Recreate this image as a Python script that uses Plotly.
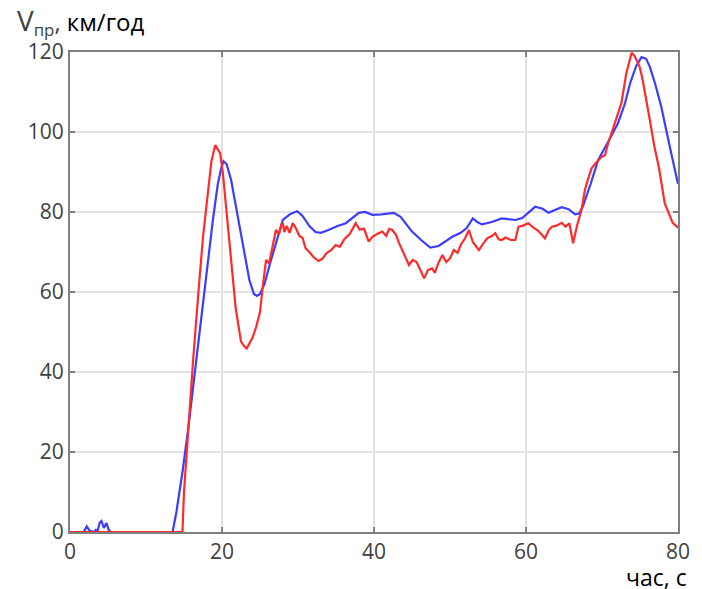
import plotly.graph_objects as go

# Blue series (time, s ; speed, km/h)
blue_t = [0, 1.8, 2.2, 2.6, 3.2, 3.4, 3.6, 3.9, 4.15, 4.45, 4.8, 5.1, 5.4, 13.5, 14.0, 14.8, 15.5,
          16.6, 17.4, 18.1, 18.8, 19.45, 19.9, 20.2, 20.6, 21.2, 22.0, 22.8, 23.6, 24.2, 24.6, 25.0,
          25.6, 26.3, 27.2, 28.0, 29.0, 29.9, 30.6, 31.5, 32.3, 33.0, 34.0, 35.2, 36.3, 37.2, 38.0,
          38.8, 39.8, 41.0, 42.6, 43.5, 44.2, 45.0, 46.2, 47.4, 48.5, 49.5, 50.3, 51.4, 52.2, 53.0,
          53.6, 54.2, 55.5, 56.8, 58.6, 59.5, 60.4, 61.2, 62.2, 62.95, 63.8, 64.7, 65.6, 66.45, 67.0,
          67.5, 68.5, 69.5, 70.8, 72.1, 73.0, 73.7, 74.5, 75.2, 75.8, 76.3, 77.0, 77.8, 78.9, 79.9, 80]
blue_v = [0, 0, 1.4, 0.3, 0, 0.5, 0, 2.3, 2.75, 1.0, 2.25, 0.5, 0, 0, 5, 15, 25,
          43, 56, 67, 78, 87, 91, 92.7, 92, 88, 80, 71, 63, 59.5, 59, 59.5,
          62, 67, 73, 78, 79.5, 80.2, 79, 76.5, 75, 74.8, 75.5, 76.5, 77.2, 78.5, 79.8,
          80, 79.3, 79.4, 79.8, 78.8, 77, 75.1, 73, 71.1, 71.5, 72.8, 73.8, 74.8, 76, 78.4,
          77.5, 76.9, 77.5, 78.4, 78, 78.5, 80, 81.3, 80.8, 79.8, 80.5, 81.2, 80.7, 79.4, 79.6,
          81.5, 87, 93, 97.5, 102.2, 107, 112.2, 116.5, 118.7, 118.3, 116.3, 112, 106.3, 96.5, 87.6, 87]

# Red series
red_t = [0, 14.8, 15.0, 15.5, 16.2, 16.9, 17.5, 18.1, 18.6, 19.1, 19.4, 19.75, 20.1, 20.6, 21.2,
         21.8, 22.5, 22.9, 23.25, 23.6, 24.0, 24.5, 25.0, 25.4, 25.8, 26.2, 26.6, 27.1, 27.5, 27.8,
         28.0, 28.2, 28.5, 28.9, 29.3, 29.7, 30.2, 30.6, 31.0, 31.5, 32.0, 32.7, 33.2, 33.8, 34.4,
         34.95, 35.5, 36.1, 36.8, 37.6, 38.1, 38.7, 39.3, 39.8, 40.4, 41.1, 41.6, 42.0, 42.4, 42.9,
         43.3, 43.9, 44.6, 45.1, 45.6, 46.1, 46.6, 47.1, 47.65, 48.0, 48.5, 49.0, 49.5, 50.0, 50.5,
         51.0, 51.4, 52.0, 52.5, 53.0, 53.4, 53.8, 54.3, 54.9, 55.5, 55.95, 56.4, 56.8, 57.3, 58.0,
         58.6, 59.0, 59.6, 60.3, 60.9, 61.6, 62.0, 62.5, 63.0, 63.4, 64.0, 64.7, 65.2, 65.7, 66.2,
         66.7, 67.3, 67.75, 68.2, 68.65, 69.3, 69.95, 70.4, 70.8, 71.3, 71.9, 72.55, 73.2, 73.6,
         73.9, 74.3, 74.95, 75.3, 75.6, 76.2, 76.9, 77.5, 78.25, 78.8, 79.3, 79.9, 80]
red_v = [0, 0, 10, 24, 43, 60, 73.8, 84, 92.6, 96.7, 95.8, 94.7, 90, 80, 68,
         56, 47.6, 46.5, 45.9, 47, 48.5, 51.3, 55, 62, 68, 67.2, 71, 75.5, 74.5, 76.75,
         77.2, 75, 76.5, 74.8, 77.2, 76, 74, 73.5, 70.9, 70, 68.8, 67.75, 68.3, 69.8, 70.5,
         71.75, 71.3, 73.2, 74.5, 77.2, 75.6, 75.8, 72.6, 73.8, 74.5, 75.1, 74, 75.8, 75.5, 74.3,
         72.2, 69.5, 66.75, 68, 67.5, 65.5, 63.4, 65.5, 65.9, 64.8, 67.4, 69.25, 67.5, 68.4, 70.5,
         69.8, 71.75, 73.5, 75.5, 72.5, 71.5, 70.5, 71.9, 73.4, 74, 74.7, 73.2, 73, 73.6, 73,
         73, 76.3, 76.6, 77.2, 76.2, 75.3, 74.5, 73.4, 75.5, 76.3, 76.6, 77.3, 76.3, 77.2, 72.2,
         76.5, 80.5, 85.5, 88.5, 91, 92.5, 93.8, 94.2, 97.2, 100, 103.5, 107.2, 114.7, 117.5,
         119.8, 119, 116.3, 113.5, 110.5, 104, 96.3, 91, 82.2, 79.5, 77.3, 76.3, 76]

x_ticks = [0, 20, 40, 60, 80]
y_ticks = [0, 20, 40, 60, 80, 100, 120]

fig = go.Figure()
fig.add_trace(go.Scatter(x=blue_t, y=blue_v, mode="lines",
                         line=dict(color="#3c3cff", width=2.2), showlegend=False))
fig.add_trace(go.Scatter(x=red_t, y=red_v, mode="lines",
                         line=dict(color="#ff2a2a", width=2.2), showlegend=False))

axis_common = dict(showline=True, linecolor="#808080", linewidth=2, mirror="ticks",
                   ticks="inside", ticklen=5, tickwidth=2, tickcolor="#808080",
                   showgrid=True, gridcolor="#e3e3e3", gridwidth=1.5, zeroline=False,
                   tickfont=dict(family="Open Sans", size=21, color="#404040"))

fig.update_layout(
    width=702, height=589,
    margin=dict(l=70, r=22, t=52, b=57),
    paper_bgcolor="white", plot_bgcolor="white",
    xaxis=dict(range=[0, 80], tickvals=x_ticks, ticktext=[str(v) for v in x_ticks], **axis_common),
    yaxis=dict(range=[0, 120], tickvals=y_ticks, ticktext=[str(v) for v in y_ticks], **axis_common),
    annotations=[
        dict(text="<span style='color:#404040;font-size:28px'>V</span>"
                  "<span style='color:#404040;font-size:24px'><sub>пр</sub>,</span> км/год",
             xref="paper", yref="paper", x=-0.088, y=1.108, xanchor="left", yanchor="top",
             showarrow=False, borderpad=0,
             font=dict(family="Open Sans", size=24, color="#000000")),
        dict(text="час, с", xref="paper", yref="paper", x=1.017, y=-0.058,
             xanchor="right", yanchor="top", showarrow=False, borderpad=0,
             font=dict(family="Open Sans", size=23, color="#000000")),
    ],
)

fig.write_html("out.html")
